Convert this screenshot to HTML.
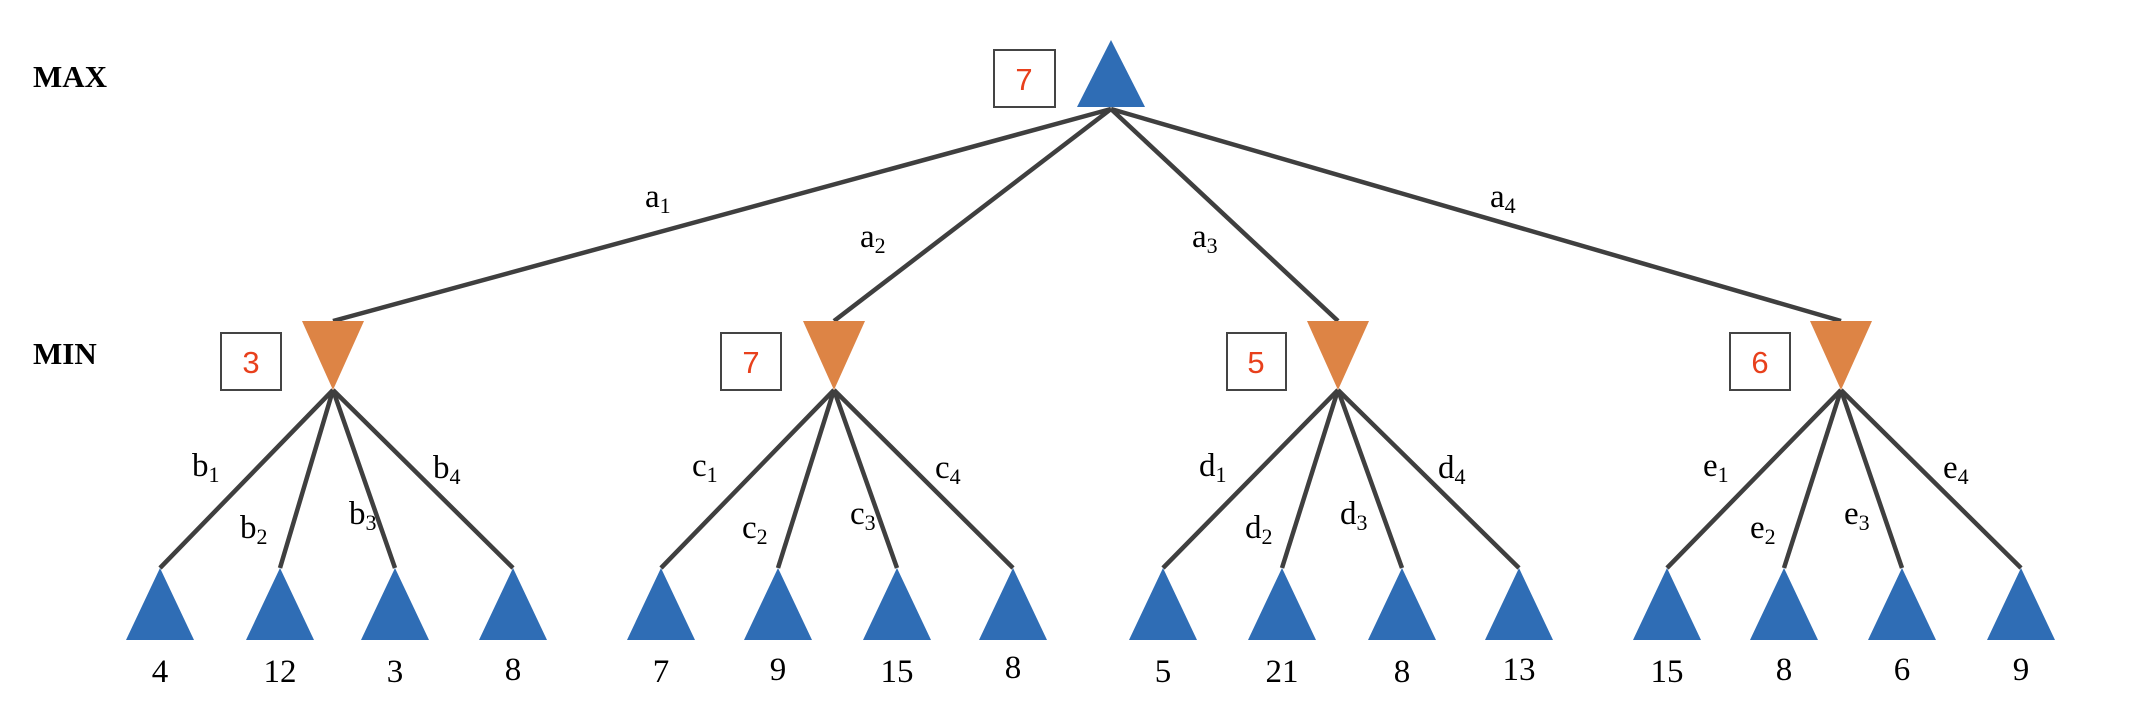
<!DOCTYPE html>
<html><head><meta charset="utf-8"><style>
html,body{margin:0;padding:0;background:#fff}
svg text{font-family:"Liberation Serif",serif}
svg text.s{font-family:"Liberation Sans",sans-serif}
</style></head><body>
<svg width="2130" height="698" viewBox="0 0 2130 698" xmlns="http://www.w3.org/2000/svg">
<g stroke="#3f3f3f" stroke-width="4.5" fill="none">
<line x1="1111" y1="109" x2="333" y2="321"/>
<line x1="1111" y1="109" x2="834" y2="321"/>
<line x1="1111" y1="109" x2="1338" y2="321"/>
<line x1="1111" y1="109" x2="1841" y2="321"/>
<line x1="333" y1="390" x2="160" y2="568"/><line x1="333" y1="390" x2="280" y2="568"/><line x1="333" y1="390" x2="395" y2="568"/><line x1="333" y1="390" x2="513" y2="568"/>
<line x1="834" y1="390" x2="661" y2="568"/><line x1="834" y1="390" x2="778" y2="568"/><line x1="834" y1="390" x2="897" y2="568"/><line x1="834" y1="390" x2="1013" y2="568"/>
<line x1="1338" y1="390" x2="1163" y2="568"/><line x1="1338" y1="390" x2="1282" y2="568"/><line x1="1338" y1="390" x2="1402" y2="568"/><line x1="1338" y1="390" x2="1519" y2="568"/>
<line x1="1841" y1="390" x2="1667" y2="568"/><line x1="1841" y1="390" x2="1784" y2="568"/><line x1="1841" y1="390" x2="1902" y2="568"/><line x1="1841" y1="390" x2="2021" y2="568"/>
</g>
<polygon points="1111,40 1077,107 1145,107" fill="#2f6db5"/>
<g fill="#dd8445">
<polygon points="302,321 364,321 333,390"/>
<polygon points="803,321 865,321 834,390"/>
<polygon points="1307,321 1369,321 1338,390"/>
<polygon points="1810,321 1872,321 1841,390"/>
</g>
<g fill="#2f6db5">
<polygon points="160,568 126,640 194,640"/><polygon points="280,568 246,640 314,640"/><polygon points="395,568 361,640 429,640"/><polygon points="513,568 479,640 547,640"/>
<polygon points="661,568 627,640 695,640"/><polygon points="778,568 744,640 812,640"/><polygon points="897,568 863,640 931,640"/><polygon points="1013,568 979,640 1047,640"/>
<polygon points="1163,568 1129,640 1197,640"/><polygon points="1282,568 1248,640 1316,640"/><polygon points="1402,568 1368,640 1436,640"/><polygon points="1519,568 1485,640 1553,640"/>
<polygon points="1667,568 1633,640 1701,640"/><polygon points="1784,568 1750,640 1818,640"/><polygon points="1902,568 1868,640 1936,640"/><polygon points="2021,568 1987,640 2055,640"/>
</g>
<g fill="#fff" stroke="#444" stroke-width="2">
<rect x="994" y="50" width="61" height="57"/>
<rect x="221" y="333" width="60" height="57"/>
<rect x="721" y="333" width="60" height="57"/>
<rect x="1227" y="333" width="59" height="57"/>
<rect x="1730" y="333" width="60" height="57"/>
</g>
<g fill="#e8401c" font-size="31" text-anchor="middle">
<text class="s" x="1024" y="90">7</text><text class="s" x="251" y="373">3</text><text class="s" x="751" y="373">7</text><text class="s" x="1256" y="373">5</text><text class="s" x="1760" y="373">6</text>
</g>
<g font-weight="bold" font-size="31" fill="#000">
<text x="33" y="87">MAX</text><text x="33" y="364">MIN</text>
</g>
<g font-size="33" fill="#000" text-anchor="middle">
<text x="160" y="682">4</text><text x="280" y="682">12</text><text x="395" y="682">3</text><text x="513" y="680">8</text>
<text x="661" y="682">7</text><text x="778" y="680">9</text><text x="897" y="682">15</text><text x="1013" y="678">8</text>
<text x="1163" y="682">5</text><text x="1282" y="682">21</text><text x="1402" y="682">8</text><text x="1519" y="680">13</text>
<text x="1667" y="682">15</text><text x="1784" y="680">8</text><text x="1902" y="680">6</text><text x="2021" y="680">9</text>
</g>
<g font-size="33" fill="#000">
<text x="645" y="207">a<tspan font-size="22" dy="6">1</tspan></text>
<text x="860" y="247">a<tspan font-size="22" dy="6">2</tspan></text>
<text x="1192" y="247">a<tspan font-size="22" dy="6">3</tspan></text>
<text x="1490" y="207">a<tspan font-size="22" dy="6">4</tspan></text>
<text x="192" y="476">b<tspan font-size="22" dy="6">1</tspan></text>
<text x="240" y="538">b<tspan font-size="22" dy="6">2</tspan></text>
<text x="349" y="524">b<tspan font-size="22" dy="6">3</tspan></text>
<text x="433" y="478">b<tspan font-size="22" dy="6">4</tspan></text>
<text x="692" y="476">c<tspan font-size="22" dy="6">1</tspan></text>
<text x="742" y="538">c<tspan font-size="22" dy="6">2</tspan></text>
<text x="850" y="524">c<tspan font-size="22" dy="6">3</tspan></text>
<text x="935" y="478">c<tspan font-size="22" dy="6">4</tspan></text>
<text x="1199" y="476">d<tspan font-size="22" dy="6">1</tspan></text>
<text x="1245" y="538">d<tspan font-size="22" dy="6">2</tspan></text>
<text x="1340" y="524">d<tspan font-size="22" dy="6">3</tspan></text>
<text x="1438" y="478">d<tspan font-size="22" dy="6">4</tspan></text>
<text x="1703" y="476">e<tspan font-size="22" dy="6">1</tspan></text>
<text x="1750" y="538">e<tspan font-size="22" dy="6">2</tspan></text>
<text x="1844" y="524">e<tspan font-size="22" dy="6">3</tspan></text>
<text x="1943" y="478">e<tspan font-size="22" dy="6">4</tspan></text>
</g>
</svg>
</body></html>
